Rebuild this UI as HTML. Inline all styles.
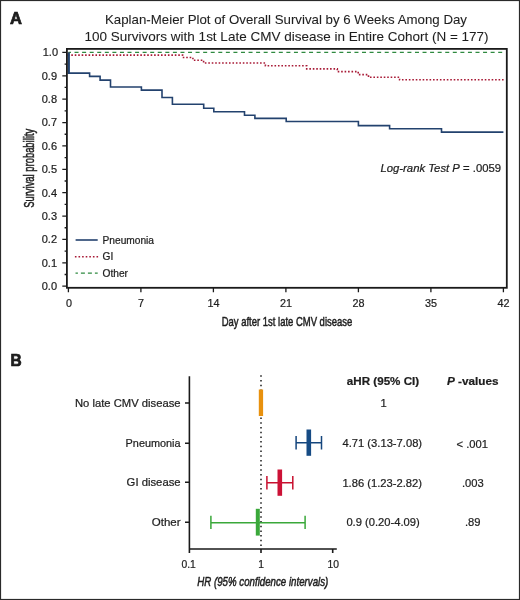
<!DOCTYPE html>
<html><head><meta charset="utf-8">
<style>
html,body{margin:0;padding:0;background:#fff;}
body{width:520px;height:600px;overflow:hidden;position:relative;}
svg{position:absolute;left:0;top:0;display:block;will-change:transform;}
text{font-family:"Liberation Sans",sans-serif;fill:#1e1e1e;stroke:#1e1e1e;stroke-width:0.22px;}
.t{stroke-width:0.08px;}
.c{stroke-width:0.5px;}
</style></head>
<body>
<svg width="520" height="600" viewBox="0 0 520 600">
<rect x="0.5" y="0.5" width="519" height="599" fill="#fff" stroke="#2a2a2a" stroke-width="1.2"/>

<!-- Panel A -->
<text x="9.9" y="23.7" font-size="16.5" font-weight="bold" fill="#111" style="stroke:#111;stroke-width:0.7px">A</text>
<text x="286" y="23.8" class="t" font-size="13.3" text-anchor="middle" textLength="362" lengthAdjust="spacingAndGlyphs">Kaplan-Meier Plot of Overall Survival by 6 Weeks Among Day</text>
<text x="286.6" y="40.7" class="t" font-size="13.4" text-anchor="middle" textLength="404" lengthAdjust="spacingAndGlyphs">100 Survivors with 1st Late CMV disease in Entire Cohort (N = 177)</text>

<g stroke="#1a1a1a" stroke-width="1.3" fill="none">
  <path d="M62.3 52.4H67 M62.3 75.78H67 M62.3 99.16H67 M62.3 122.54H67 M62.3 145.92H67 M62.3 169.3H67 M62.3 192.68H67 M62.3 216.06H67 M62.3 239.44H67 M62.3 262.82H67 M62.3 286.2H67"/>
  <path d="M64.6 64.09H67 M64.6 87.47H67 M64.6 110.85H67 M64.6 134.23H67 M64.6 157.61H67 M64.6 180.99H67 M64.6 204.37H67 M64.6 227.75H67 M64.6 251.13H67 M64.6 274.51H67"/>
  <path d="M68.4 287.8V292.2 M140.9 287.8V292.2 M213.4 287.8V292.2 M285.9 287.8V292.2 M358.4 287.8V292.2 M430.9 287.8V292.2 M503.4 287.8V292.2"/>
</g>
<g font-size="11" text-anchor="end">
  <text x="58" y="56.2">1.0</text>
  <text x="57" y="79.6">0.9</text>
  <text x="57" y="103">0.8</text>
  <text x="57" y="126.4">0.7</text>
  <text x="57" y="149.7">0.6</text>
  <text x="57" y="173.1">0.5</text>
  <text x="57" y="196.5">0.4</text>
  <text x="57" y="219.9">0.3</text>
  <text x="57" y="243.2">0.2</text>
  <text x="57" y="266.6">0.1</text>
  <text x="57" y="290">0.0</text>
</g>
<g font-size="10.8" text-anchor="middle">
  <text x="68.9" y="307">0</text>
  <text x="140.9" y="307">7</text>
  <text x="213.4" y="307">14</text>
  <text x="285.9" y="307">21</text>
  <text x="358.4" y="307">28</text>
  <text x="430.9" y="307">35</text>
  <text x="503.4" y="307">42</text>
</g>
<text class="c" x="287" y="326" font-size="12.8" text-anchor="middle" textLength="130.5" lengthAdjust="spacingAndGlyphs">Day after 1st late CMV disease</text>
<text class="c" transform="translate(34 168.3) rotate(-90)" x="0" y="0" font-size="14" text-anchor="middle" textLength="79" lengthAdjust="spacingAndGlyphs">Survival probability</text>

<!-- curves -->
<path d="M68.4 52.4 H503.4" stroke="#2f8a40" stroke-width="1.4" fill="none" stroke-dasharray="4 3.565" stroke-dashoffset="1.415"/>
<path d="M68.4 52.4 V55.1 H182.6 V57.5 H192.9 V60.2 H203.6 V63.0 H265.4 V65.8 H306.7 V68.9 H337.3 V71.6 H358.2 V74.6 H368.5 V77.3 H399.6 V79.8 H503.6" stroke="#a81a36" stroke-width="1.6" fill="none" stroke-dasharray="1.6 1.85" stroke-dashoffset="1.3"/>
<path d="M68.4 52.4 V73.1 H89.6 V76.4 H100.1 V80.1 H110.5 V87.0 H141.4 V90.1 H162 V97.5 H172.4 V104.2 H203.7 V108.2 H213.8 V111.8 H244.5 V115.2 H254.9 V118.4 H286.2 V121.5 H358.4 V125.6 H389.6 V128.7 H441.5 V132.1 H503.4" stroke="#23426e" stroke-width="1.6" fill="none"/>

<path d="M69.2 52.4V73.1" stroke="#23426e" stroke-width="1.4" fill="none"/>
<rect x="66.9" y="48.9" width="439.9" height="238.9" fill="none" stroke="#1a1a1a" stroke-width="1.8"/>

<!-- legend -->
<path d="M75.6 240H97.7" stroke="#23426e" stroke-width="1.6"/>
<path d="M74.9 256.8H98.2" stroke="#a81a36" stroke-width="1.6" stroke-dasharray="1.6 2"/>
<path d="M75.5 273.1H97.7" stroke="#2f8a40" stroke-width="1.4" stroke-dasharray="4 3" stroke-dashoffset="1.6"/>
<g font-size="10.2">
  <text x="102.5" y="243.8">Pneumonia</text>
  <text x="102.5" y="260.2">GI</text>
  <text x="102.5" y="276.5">Other</text>
</g>
<text x="380.4" y="171.9" font-size="11" textLength="120.8" lengthAdjust="spacingAndGlyphs"><tspan font-style="italic">Log-rank Test P</tspan> = .0059</text>

<!-- Panel B -->
<text x="10.4" y="365.6" font-size="16.3" font-weight="bold" fill="#111" style="stroke:#111;stroke-width:0.7px" textLength="11.2" lengthAdjust="spacingAndGlyphs">B</text>
<g stroke="#1a1a1a" stroke-width="1.6" fill="none">
  <path d="M189.4 376.2V553 M188.6 549H336.8"/>
  <path d="M185 403H189.4 M185 443.2H189.4 M185 482.3H189.4 M185 522.3H189.4"/>
  <path d="M261 549V553 M332.7 549V553"/>
</g>
<path d="M261 375.3V549" stroke="#1a1a1a" stroke-width="1.5" stroke-dasharray="1.5 3.2"/>
<g font-size="10.3" text-anchor="middle">
  <text x="188.6" y="567.5">0.1</text>
  <text x="261" y="567.5">1</text>
  <text x="333.2" y="567.5">10</text>
</g>
<text class="c" x="262.8" y="586.4" font-size="12.8" font-style="italic" text-anchor="middle" textLength="131" lengthAdjust="spacingAndGlyphs">HR (95% confidence intervals)</text>
<g font-size="11.2" text-anchor="end">
  <text x="180.6" y="407.2" textLength="105.6" lengthAdjust="spacingAndGlyphs">No late CMV disease</text>
  <text x="180.6" y="446.5" textLength="55" lengthAdjust="spacingAndGlyphs">Pneumonia</text>
  <text x="180.6" y="486.3" textLength="54" lengthAdjust="spacingAndGlyphs">GI disease</text>
  <text x="180.6" y="526" textLength="28.8" lengthAdjust="spacingAndGlyphs">Other</text>
</g>
<!-- forest -->
<rect x="258.8" y="389.5" width="4.3" height="26.5" fill="#e8910e"/>
<g stroke="#15467d" stroke-width="1.5" fill="none"><path d="M296.1 442.8H321.5 M296.1 435.9V449.4 M321.5 435.9V449.4"/></g>
<rect x="306.5" y="429.5" width="4.6" height="26.3" fill="#164b84"/>
<g stroke="#c8102f" stroke-width="1.5" fill="none"><path d="M266.9 482.8H292.8 M266.9 476.1V489.4 M292.8 476.1V489.4"/></g>
<rect x="277.5" y="469.5" width="4.6" height="26.3" fill="#cc1236"/>
<g stroke="#3aa83a" stroke-width="1.5" fill="none"><path d="M210.9 522.7H305.1 M210.9 515.7V528.9 M305.1 515.7V528.9"/></g>
<rect x="255.8" y="508.8" width="4" height="26.8" fill="#3aa83a"/>

<!-- table -->
<text x="383" y="384.7" font-size="11.5" font-weight="bold" text-anchor="middle" textLength="72.3" lengthAdjust="spacingAndGlyphs">aHR (95% CI)</text>
<text x="472.7" y="384.6" font-size="11.5" font-weight="bold" text-anchor="middle" textLength="51.6" lengthAdjust="spacingAndGlyphs"><tspan font-style="italic">P</tspan> -values</text>
<g font-size="11.2" text-anchor="middle">
  <text x="383.5" y="406.9">1</text>
  <text x="382.3" y="446.9">4.71 (3.13-7.08)</text>
  <text x="382.2" y="486.8">1.86 (1.23-2.82)</text>
  <text x="383.1" y="526.1">0.9 (0.20-4.09)</text>
  <text x="472.3" y="447.7">&lt; .001</text>
  <text x="472.9" y="486.5">.003</text>
  <text x="472.8" y="526">.89</text>
</g>
</svg>
</body></html>
